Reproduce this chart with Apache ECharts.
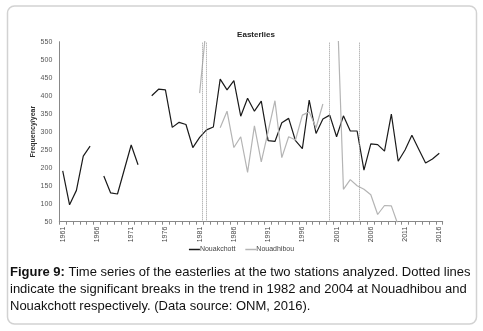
<!DOCTYPE html>
<html>
<head>
<meta charset="utf-8">
<script src="https://cdn.jsdelivr.net/npm/echarts@6/dist/echarts.min.js"></script>
<style>
html,body{margin:0;padding:0;background:#fff;}
#c{width:483px;height:331px;}
</style>
</head>
<body>
<div id="c"></div>
<script>
const years = [];
for (let y = 1961; y <= 2016; y++) years.push(String(y));

const nouakchott = [191, 97, 137, 232, 260, null, 177, 130, 127, 195,
  263, 208, null, 400, 418, 416, 312, 326, 320, 256,
  284, 305, 313, 446, 416, 442, 343, 393, 357, 385,
  275, 273, 325, 337, 275, 253, 388, 295, 335, 346,
  286, 344, 302, 302, 193, 266, 264, 246, 349, 218,
  249, 290, 251, 213, 224, 240];

const nouadhibou = [null, null, null, null, null, null, null, null, null, null,
  null, null, null, null, null, null, null, null, null, null,
  407, 600, null, 311, 357, 256, 286, 187, 316, 216,
  300, 386, 228, 286, 277, 346, 355, 311, 377, null,
  700, 140, 167, 150, 140, 125, 70, 95, 94, 40,
  null, null, null, null, null, null];

const breakLines = [1981.45, 1982.03, 2000, 2004.3];

const yTicks = {min: 50, max: 550, interval: 50};

const captionLines = [
  '{b|Figure 9:} Time series of the easterlies at the two stations analyzed. Dotted lines',
  'indicate the significant breaks in the trend in 1982 and 2004 at Nouadhibou and',
  'Nouakchott respectively. (Data source: ONM, 2016).'
];

const chart = echarts.init(document.getElementById('c'), null, {renderer: 'canvas'});
const axisFont = '"Liberation Sans", Arial, sans-serif';

chart.setOption({
  animation: false,
  backgroundColor: '#fff',
  title: {
    text: 'Easterlies',
    left: 251, top: 26,
    textAlign: 'center',
    textStyle: {fontSize: 8, fontWeight: 'bold', color: '#222', fontFamily: axisFont}
  },
  legend: {
    data: ['Nouakchott', 'Nouadhibou'],
    left: 'center', top: 241,
    icon: 'rect', itemWidth: 11, itemHeight: 1.5, itemGap: 10,
    textStyle: {fontSize: 7, color: '#444', fontFamily: axisFont, padding: [0, 0, 0, -5]}
  },
  grid: {left: 59.3, right: 40.3, top: 41.7, bottom: 109.3, containLabel: false},
  xAxis: [{
    type: 'category',
    data: years,
    boundaryGap: true,
    axisLine: {lineStyle: {color: '#888', width: 1}},
    axisTick: {show: true, interval: 0, length: 3, lineStyle: {color: '#888'}},
    axisLabel: {interval: 4, rotate: 90, fontSize: 7, color: '#444', fontFamily: axisFont, margin: 5},
    splitLine: {show: false}
  }, {
    type: 'value', min: 1960.5, max: 2016.5, show: false
  }],
  yAxis: {
    type: 'value',
    min: yTicks.min, max: yTicks.max, interval: yTicks.interval,
    name: 'Frequency/year',
    nameLocation: 'middle', nameGap: 23, nameMoveOverlap: false,
    nameTextStyle: {fontSize: 7, fontWeight: 'bold', color: '#333', fontFamily: axisFont},
    axisLine: {show: true, lineStyle: {color: '#888', width: 1}},
    axisTick: {show: false},
    axisLabel: {fontSize: 7, color: '#555', fontFamily: axisFont, margin: 7},
    splitLine: {show: false}
  },
  series: [{
    name: 'Nouakchott', type: 'line', data: nouakchott,
    showSymbol: false, connectNulls: false,
    lineStyle: {color: '#1a1a1a', width: 1.2}, itemStyle: {color: '#1a1a1a'}
  }, {
    name: 'Nouadhibou', type: 'line', data: nouadhibou,
    showSymbol: false, connectNulls: false,
    lineStyle: {color: '#b4b4b4', width: 1.2}, itemStyle: {color: '#b4b4b4'}
  }, {
    name: 'breaks', type: 'line', xAxisIndex: 1, data: [],
    markLine: {
      silent: true, symbol: 'none',
      label: {show: false},
      lineStyle: {type: 'dotted', color: '#999', width: 1},
      data: breakLines.map(v => ({xAxis: v}))
    }
  }],
  graphic: [{
    type: 'rect',
    shape: {x: 7.5, y: 6, width: 469, height: 318, r: 7},
    style: {fill: 'none', stroke: '#d2d2d2', lineWidth: 1.5},
    silent: true, z: -1
  }, {
    type: 'text',
    left: 10, top: 264,
    style: {
      text: captionLines.join('\n'),
      fontSize: 13, lineHeight: 17,
      fontFamily: axisFont, fill: '#111',
      rich: {b: {fontWeight: 'bold', fontSize: 13, fontFamily: axisFont, fill: '#111'}}
    }
  }]
});
</script>
</body>
</html>
